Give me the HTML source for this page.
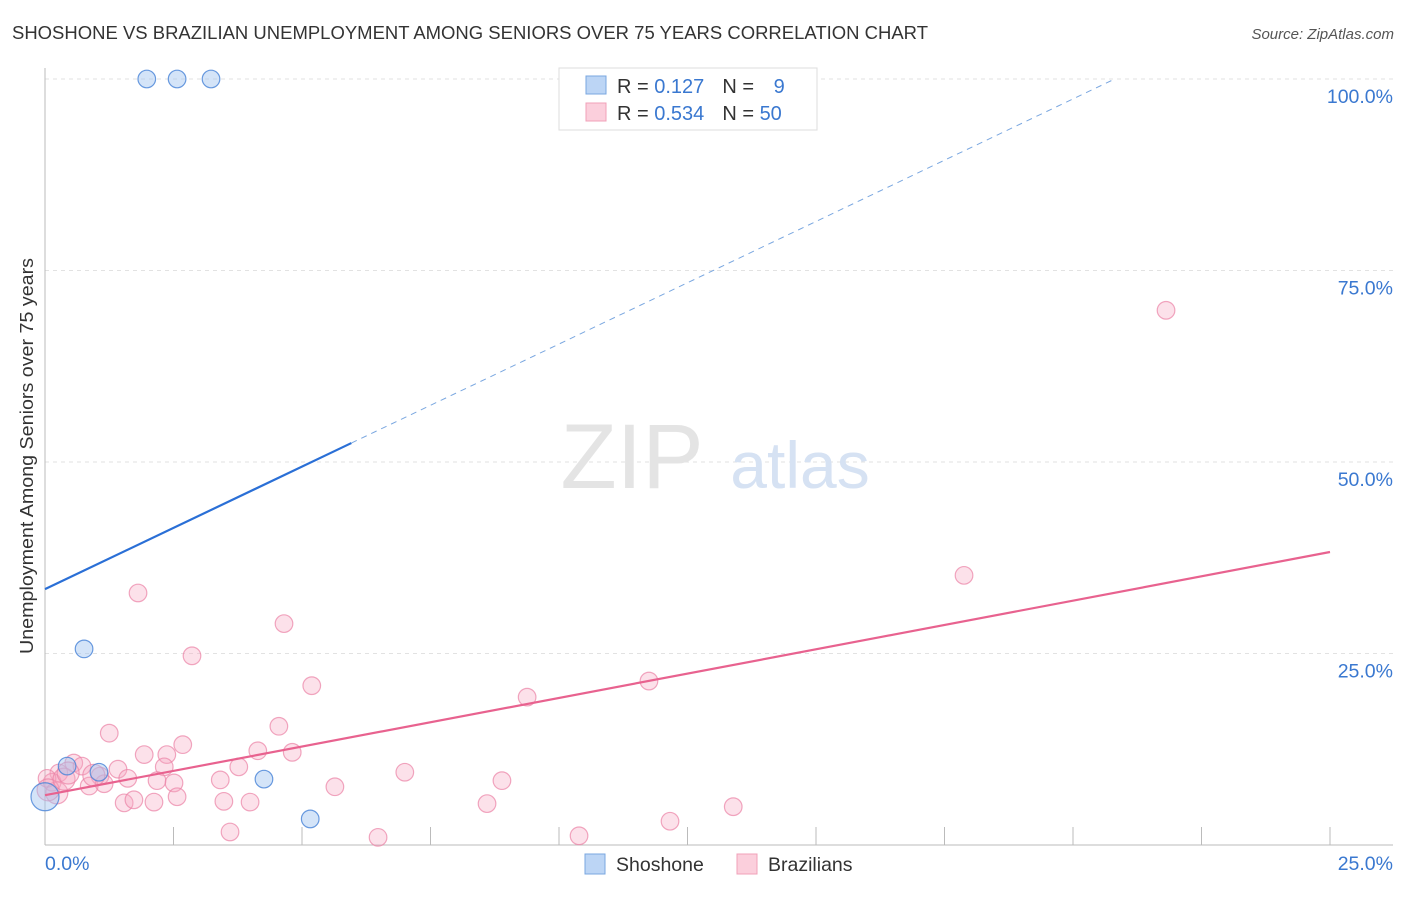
<!DOCTYPE html>
<html><head><meta charset="utf-8"><style>
body{margin:0;background:#fff;font-family:"Liberation Sans",sans-serif;}
svg text{font-family:"Liberation Sans",sans-serif;}
</style></head><body>
<svg id="chart" width="1406" height="892">
<text x="12" y="39" font-size="18" fill="#333" textLength="916" lengthAdjust="spacingAndGlyphs">SHOSHONE VS BRAZILIAN UNEMPLOYMENT AMONG SENIORS OVER 75 YEARS CORRELATION CHART</text>
<text x="1394" y="39" font-size="15" fill="#555" font-style="italic" text-anchor="end">Source: ZipAtlas.com</text>
<g id="grid"></g>
<text x="632" y="488" font-size="92" fill="#e4e4e4" font-family="Liberation Serif" text-anchor="middle">ZIP</text>
<text x="800" y="488" font-size="66" fill="#d6e2f3" text-anchor="middle">atlas</text>
<text transform="translate(33,456) rotate(-90)" font-size="18" fill="#333" text-anchor="middle" textLength="396" lengthAdjust="spacingAndGlyphs">Unemployment Among Seniors over 75 years</text>
<g id="marks"></g>
<g>
<rect x="559" y="68" width="258" height="62" fill="#fff" stroke="#ddd"/>
<rect x="586" y="76" width="20" height="18" fill="#bcd5f5" stroke="#7aa7e0"/>
<rect x="586" y="103" width="20" height="18" fill="#fbcfdc" stroke="#f0a0b8"/>
<text x="617" y="93" font-size="20" fill="#333">R = <tspan fill="#3a78d0"> 0.127</tspan><tspan dx="18">N = </tspan><tspan fill="#3a78d0" dx="14">9</tspan></text>
<text x="617" y="120" font-size="20" fill="#333">R = <tspan fill="#3a78d0">0.534</tspan><tspan dx="18">N = </tspan><tspan fill="#3a78d0">50</tspan></text>
</g>
<g>
<rect x="585" y="854" width="20" height="20" fill="#bcd5f5" stroke="#7aa7e0"/>
<text x="616" y="871" font-size="19.5" fill="#333">Shoshone</text>
<rect x="737" y="854" width="20" height="20" fill="#fbcfdc" stroke="#f0a0b8"/>
<text x="768" y="871" font-size="19.5" fill="#333">Brazilians</text>
</g>
</svg>
<script>
const yTicks=[25,50,75,100];
const yTickLabels=["25.0%","50.0%","75.0%","100.0%"];
const xTicks=[2.5,5,7.5,10,12.5,15,17.5,20,22.5,25];
const shoX=[1.98,2.57,3.23,0.76,0.43,1.05,4.26,5.16,0];
const shoY=[100,100,100,25.6,10.3,9.5,8.6,3.4,6.3];
const braX=[21.81,17.88,1.81,4.65,2.86,5.19,11.75,9.38,1.25,4.55,2.68,1.93,2.37,4.14,4.81,0.56,0.72,1.42,3.77,2.32,0.27,1.07,1.61,3.41,2.18,2.51,7.00,8.89,5.64,0.86,1.15,0.14,0.04,2.57,3.48,3.99,1.54,1.73,2.12,8.60,13.39,12.16,3.60,6.48,10.39,0.23,0.06,0.37,0.45,0.95];
const braY=[69.8,35.2,32.9,28.9,24.7,20.8,21.4,19.3,14.6,15.5,13.1,11.8,11.8,12.3,12.1,10.7,10.3,9.9,10.2,10.2,9.4,9.0,8.7,8.5,8.4,8.1,9.5,8.4,7.6,7.7,8.0,8.2,8.7,6.3,5.7,5.6,5.5,5.9,5.6,5.4,5.0,3.1,1.7,1.0,1.2,6.8,7.2,8.6,9.4,9.1];
const shoLine=[33.4,3.2];  // intercept, slope
const braLine=[6.5,1.27];
const NS='http://www.w3.org/2000/svg';
const X=v=>45+v/25*1285, Y=v=>845-v/100*766;
function mk(t,a,p){const e=document.createElementNS(NS,t);for(const k in a)e.setAttribute(k,a[k]);p.appendChild(e);return e;}
const grid=document.getElementById('grid'), marks=document.getElementById('marks');
yTicks.forEach((v,i)=>{
 const l=mk('line',{x1:45,x2:1393,y1:Y(v),y2:Y(v),stroke:'#e2e2e2','stroke-dasharray':'4,4'},grid);
 
 
 const t=mk('text',{x:1393,y:Y(v)+24,'font-size':19.5,fill:'#3a78d0','text-anchor':'end'},grid);
 t.textContent=yTickLabels[i];
 
 
});
xTicks.forEach(v=>{
 const l=mk('line',{x1:X(v),x2:X(v),y1:827,y2:845,stroke:'#bbb'},grid);
 
 
});
let a=mk('line',{x1:45,x2:45,y1:68,y2:845,stroke:'#bbb'},grid);


a=mk('line',{x1:45,x2:1393,y1:845,y2:845,stroke:'#bbb'},grid);


let t=mk('text',{x:45,y:870,'font-size':19.5,fill:'#3a78d0'},grid);t.textContent='0.0%';


t=mk('text',{x:1393,y:870,'font-size':19.5,fill:'#3a78d0','text-anchor':'end'},grid);t.textContent='25.0%';


braX.forEach((x,i)=>{
 const c=mk('circle',{cx:X(x),cy:Y(braY[i]),r:i>=45?11:8.8,fill:'rgba(247,170,195,0.35)',stroke:'rgba(235,130,165,0.7)','stroke-width':1.2},marks);
 
 
});
shoX.forEach((x,i)=>{
 const c=mk('circle',{cx:X(x),cy:Y(shoY[i]),r:i==8?14:8.8,fill:'rgba(160,195,240,0.45)',stroke:'rgba(70,130,215,0.8)','stroke-width':1.2},marks);
 
 
});
const sEnd=5.96, sTop=(100-shoLine[0])/shoLine[1];
let l=mk('line',{x1:X(0),y1:Y(shoLine[0]),x2:X(sEnd),y2:Y(shoLine[0]+shoLine[1]*sEnd),stroke:'#2a6fd6','stroke-width':2.2},marks);


l=mk('line',{x1:X(sEnd),y1:Y(shoLine[0]+shoLine[1]*sEnd),x2:X(sTop),y2:Y(100),stroke:'#7aa7e0','stroke-width':1,'stroke-dasharray':'6,5'},marks);


l=mk('line',{x1:X(0),y1:Y(braLine[0]),x2:X(25),y2:Y(braLine[0]+braLine[1]*25),stroke:'#e8628f','stroke-width':2.2},marks);


</script>
</body></html>
